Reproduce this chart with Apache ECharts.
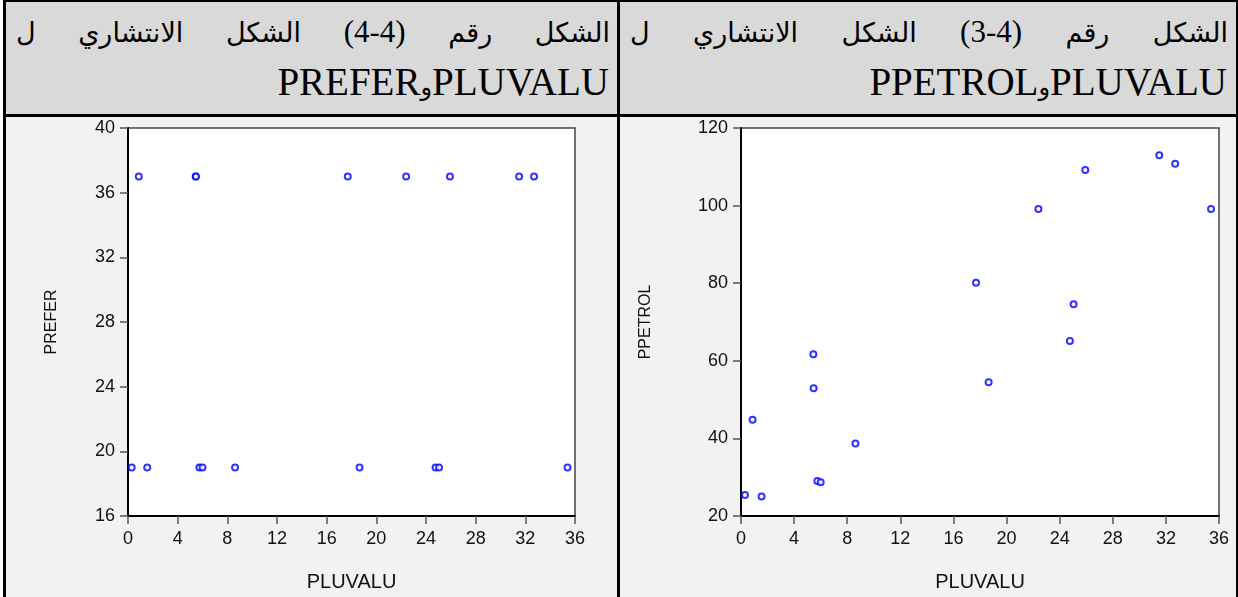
<!DOCTYPE html>
<html>
<head>
<meta charset="utf-8">
<script src="https://cdn.jsdelivr.net/npm/echarts@6/dist/echarts.min.js"></script>
<style>
  html, body { margin:0; padding:0; width:1238px; height:597px; overflow:hidden; background:#ffffff; }
  .box { position:absolute; box-sizing:border-box; }
  .hdr { background:#d9d9d9; }
  .cell { background:#f2f2f2; }
  .line { position:absolute; background:#000; }
  .row1 { position:absolute; direction:rtl; display:flex; justify-content:space-between; align-items:baseline; white-space:nowrap; line-height:1; color:#000; }
  .row2 { position:absolute; direction:rtl; text-align:right; white-space:nowrap; line-height:1; color:#000; font-family:"Liberation Serif",serif; font-size:39px; }
  .ar { font-family:"DejaVu Sans",sans-serif; font-size:27px; }
  .num { font-family:"Liberation Serif",serif; font-size:31px; direction:ltr; unicode-bidi:isolate; }
  .waw { font-family:"DejaVu Sans",sans-serif; font-size:24px; }
  #chart { position:absolute; left:0; top:0; width:1238px; height:597px; }
</style>
</head>
<body>
<div class="box hdr" style="left:6px;top:2px;width:612px;height:113px;"></div>
<div class="box hdr" style="left:620px;top:2px;width:616px;height:113px;"></div>
<div class="box cell" style="left:6px;top:117px;width:612px;height:480px;"></div>
<div class="box cell" style="left:620px;top:117px;width:616px;height:480px;"></div>
<div class="line" style="left:3px;top:0;width:1236px;height:2px;"></div>
<div class="line" style="left:3px;top:114px;width:1236px;height:3px;"></div>
<div class="line" style="left:3px;top:0;width:3px;height:597px;"></div>
<div class="line" style="left:617px;top:0;width:3px;height:597px;"></div>
<div class="line" style="left:1236px;top:0;width:2px;height:597px;"></div>

<div id="t1a" class="row1" style="left:16px;top:16px;width:594px;"></div>
<div id="t1b" class="row2" style="left:16px;top:62px;width:593px;"></div>
<div id="t2a" class="row1" style="left:630px;top:16px;width:598px;"></div>
<div id="t2b" class="row2" style="left:630px;top:62px;width:597px;"></div>

<div id="chart"></div>
<script>
// ---- data ----
var titleLeftWords  = ["الشكل", "رقم", "(4-4)", "الشكل", "الانتشاري", "ل"];
var titleLeftVars   = ["PLUVALU", "PREFER"];
var titleRightWords = ["الشكل", "رقم", "(3-4)", "الشكل", "الانتشاري", "ل"];
var titleRightVars  = ["PLUVALU", "PPETROL"];
var conj = "و";

var xName = "PLUVALU";
var yNameLeft = "PREFER";
var yNameRight = "PPETROL";

var pluvalu  = [0.3, 0.87, 1.55, 5.45, 5.47, 5.75, 6.0, 8.62, 17.7, 18.65, 22.4, 24.77, 25.05, 25.93, 31.5, 32.7, 35.4];
var prefer   = [19, 37, 19, 37, 37, 19, 19, 19, 37, 19, 37, 19, 19, 37, 37, 37, 19];
var ppetrol  = [25.4, 44.8, 25.0, 61.7, 52.9, 29.0, 28.7, 38.7, 80.1, 54.5, 99.1, 65.1, 74.6, 109.2, 113.0, 110.8, 99.1];

var xTicks = [0, 4, 8, 12, 16, 20, 24, 28, 32, 36];
var yTicksLeft = [16, 20, 24, 28, 32, 36, 40];
var yTicksRight = [20, 40, 60, 80, 100, 120];

function fillRow1(id, words) {
  var el = document.getElementById(id);
  words.forEach(function (w) {
    var s = document.createElement('span');
    s.className = /[0-9]/.test(w) ? 'num' : 'ar';
    s.textContent = w;
    el.appendChild(s);
  });
}
function fillRow2(id, vars) {
  var el = document.getElementById(id);
  var a = document.createElement('span'); a.textContent = vars[0];
  var c = document.createElement('span'); c.className = 'waw'; c.textContent = conj;
  var b = document.createElement('span'); b.textContent = vars[1];
  el.appendChild(a); el.appendChild(c); el.appendChild(b);
}
fillRow1('t1a', titleLeftWords);
fillRow2('t1b', titleLeftVars);
fillRow1('t2a', titleRightWords);
fillRow2('t2b', titleRightVars);

function pairs(xs, ys) { return xs.map(function (x, i) { return [x, ys[i]]; }); }

var FONT = 'Liberation Sans, Arial, sans-serif';
var labelFont = { fontFamily: FONT, fontSize: 18, color: '#111' };

function xAxis(gi) {
  return {
    type: 'value', gridIndex: gi,
    min: xTicks[0], max: xTicks[xTicks.length - 1], interval: xTicks[1] - xTicks[0],
    name: xName, nameLocation: 'middle', nameGap: 56,
    nameTextStyle: { fontFamily: FONT, fontSize: 20, color: '#111' },
    axisLine: { show: true, onZero: false, lineStyle: { color: '#000', width: 2 } },
    axisTick: { show: true, length: 8, lineStyle: { color: '#555', width: 1.5 } },
    axisLabel: Object.assign({ margin: 14 }, labelFont),
    splitLine: { show: false }
  };
}
function yAxis(gi, ticks, name, gap) {
  return {
    type: 'value', gridIndex: gi,
    min: ticks[0], max: ticks[ticks.length - 1], interval: ticks[1] - ticks[0],
    name: name, nameLocation: 'middle', nameGap: gap,
    nameTextStyle: { fontFamily: FONT, fontSize: 16, color: '#111' },
    axisLine: { show: true, onZero: false, lineStyle: { color: '#000', width: 2 } },
    axisTick: { show: true, length: 8, lineStyle: { color: '#555', width: 1.5 } },
    axisLabel: Object.assign({ margin: 13 }, labelFont),
    splitLine: { show: false }
  };
}

var chart = echarts.init(document.getElementById('chart'), null, { renderer: 'canvas' });
chart.setOption({
  backgroundColor: 'transparent',
  animation: false,
  grid: [
    { left: 128, top: 128, width: 447, height: 392, show: true, backgroundColor: '#fff', borderColor: '#444', borderWidth: 1.5 },
    { left: 741, top: 128, width: 478, height: 392, show: true, backgroundColor: '#fff', borderColor: '#444', borderWidth: 1.5 }
  ],
  xAxis: [xAxis(0), xAxis(1)],
  yAxis: [yAxis(0, yTicksLeft, yNameLeft, 68), yAxis(1, yTicksRight, yNameRight, 87)],
  series: [
    { type: 'scatter', xAxisIndex: 0, yAxisIndex: 0, data: pairs(pluvalu, prefer),
      symbol: 'emptyCircle', symbolSize: 6, itemStyle: { color: '#0000ff', borderColor: '#0000ff', borderWidth: 1.5 } },
    { type: 'scatter', xAxisIndex: 1, yAxisIndex: 1, data: pairs(pluvalu, ppetrol),
      symbol: 'emptyCircle', symbolSize: 6, itemStyle: { color: '#0000ff', borderColor: '#0000ff', borderWidth: 1.5 } }
  ]
});
</script>
</body>
</html>
